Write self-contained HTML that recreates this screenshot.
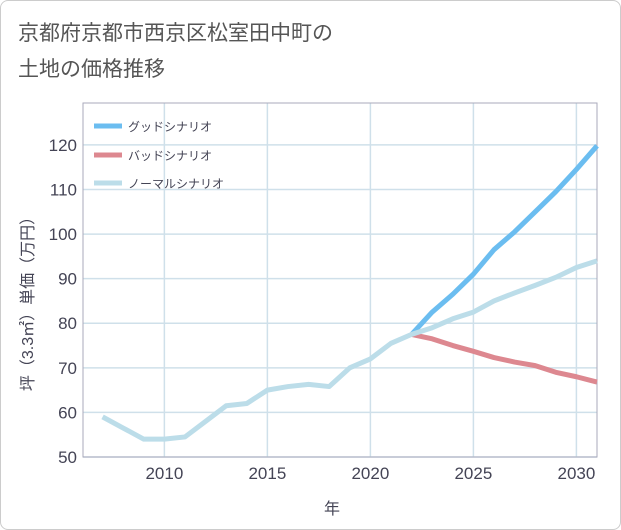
<!DOCTYPE html>
<html><head><meta charset="utf-8"><style>
body{margin:0;background:#fff;font-family:"Liberation Sans","Noto Sans CJK JP",sans-serif}
#wrap{position:relative;width:619px;height:528px;border:1px solid #ccc;border-radius:8px;background:#fff;overflow:hidden}
</style></head><body>
<div id="wrap">
<svg id="c" width="621" height="530" style="position:absolute;left:-1px;top:-1px">
<text x="18" y="40" font-size="21" fill="#555">京都府京都市西京区松室田中町の</text>
<text x="18" y="76" font-size="21" fill="#555">土地の価格推移</text>
<g id="grid"></g><g id="axes"></g><g id="series"></g>
<text x="332" y="514" font-size="16" fill="#445" text-anchor="middle">年</text>
<text transform="translate(33,300) rotate(-90)" font-size="16" fill="#445" text-anchor="middle">坪（3.3㎡）単価（万円）</text>
<g>
<line x1="94" y1="126" x2="122" y2="126" stroke="#6bbdf0" stroke-width="5"/>
<text x="128" y="131" font-size="12" fill="#445">グッドシナリオ</text>
<line x1="94" y1="155" x2="122" y2="155" stroke="#dd8890" stroke-width="5"/>
<text x="128" y="160" font-size="12" fill="#445">バッドシナリオ</text>
<line x1="94" y1="183" x2="122" y2="183" stroke="#bcdde9" stroke-width="5"/>
<text x="128" y="188" font-size="12" fill="#445">ノーマルシナリオ</text>
</g>
</svg></div>
<script>
const normalYears=[2007,2008,2009,2010,2011,2012,2013,2014,2015,2016,2017,2018,2019,2020,2021,2022,2023,2024,2025,2026,2027,2028,2029,2030,2031];
const normalVals=[59,56.5,54,54,54.5,58,61.5,62,65,65.8,66.3,65.8,70,72,75.5,77.5,79,81,82.5,85,86.8,88.5,90.3,92.5,94];
const futureYears=[2022,2023,2024,2025,2026,2027,2028,2029,2030,2031];
const goodVals=[77.5,82.5,86.5,91,96.5,100.5,105,109.5,114.5,119.8];
const badVals=[77.5,76.5,75,73.7,72.3,71.3,70.5,69,68,66.8];
const yTicks=[50,60,70,80,90,100,110,120];
const xTicks=[2010,2015,2020,2025,2030];
const L=83,R=597,T=103,B=457,x0=2006.05,x1=2031,y0=50,y1=129.4;
const X=v=>L+(v-x0)/(x1-x0)*(R-L), Y=v=>B-(v-y0)/(y1-y0)*(B-T);
const NS="http://www.w3.org/2000/svg";
function mk(p,t,a){const e=document.createElementNS(NS,t);for(const k in a)e.setAttribute(k,a[k]);p.appendChild(e);return e;}
const g=document.getElementById('grid'),ax=document.getElementById('axes'),s=document.getElementById('series');
yTicks.forEach(v=>{const l=mk(g,'line',{x1:L,x2:R,y1:Y(v),y2:Y(v),stroke:'#cfe0ea','stroke-width':1.5});


const t=mk(ax,'text',{x:L-6,y:Y(v)+6,'font-size':17,fill:'#445','text-anchor':'end'});t.textContent=v;

});
xTicks.forEach(v=>{const l=mk(g,'line',{x1:X(v),x2:X(v),y1:T,y2:B,stroke:'#cfe0ea','stroke-width':1.5});


const t=mk(ax,'text',{x:X(v),y:B+22,'font-size':17,fill:'#445','text-anchor':'middle'});t.textContent=v;

});
const fr=mk(ax,'rect',{x:L,y:T,width:R-L,height:B-T,fill:'none',stroke:'#aab','stroke-width':1});


function line(xs,vs,c,n){const p=mk(s,'polyline',{points:xs.map((x,i)=>X(x)+','+Y(vs[i])).join(' '),fill:'none',stroke:c,'stroke-width':5,'stroke-linejoin':'round'});

}
line(futureYears,goodVals,'#6bbdf0','good-scenario-line');
line(futureYears,badVals,'#dd8890','bad-scenario-line');
line(normalYears,normalVals,'#bcdde9','normal-scenario-line');
</script></body></html>
